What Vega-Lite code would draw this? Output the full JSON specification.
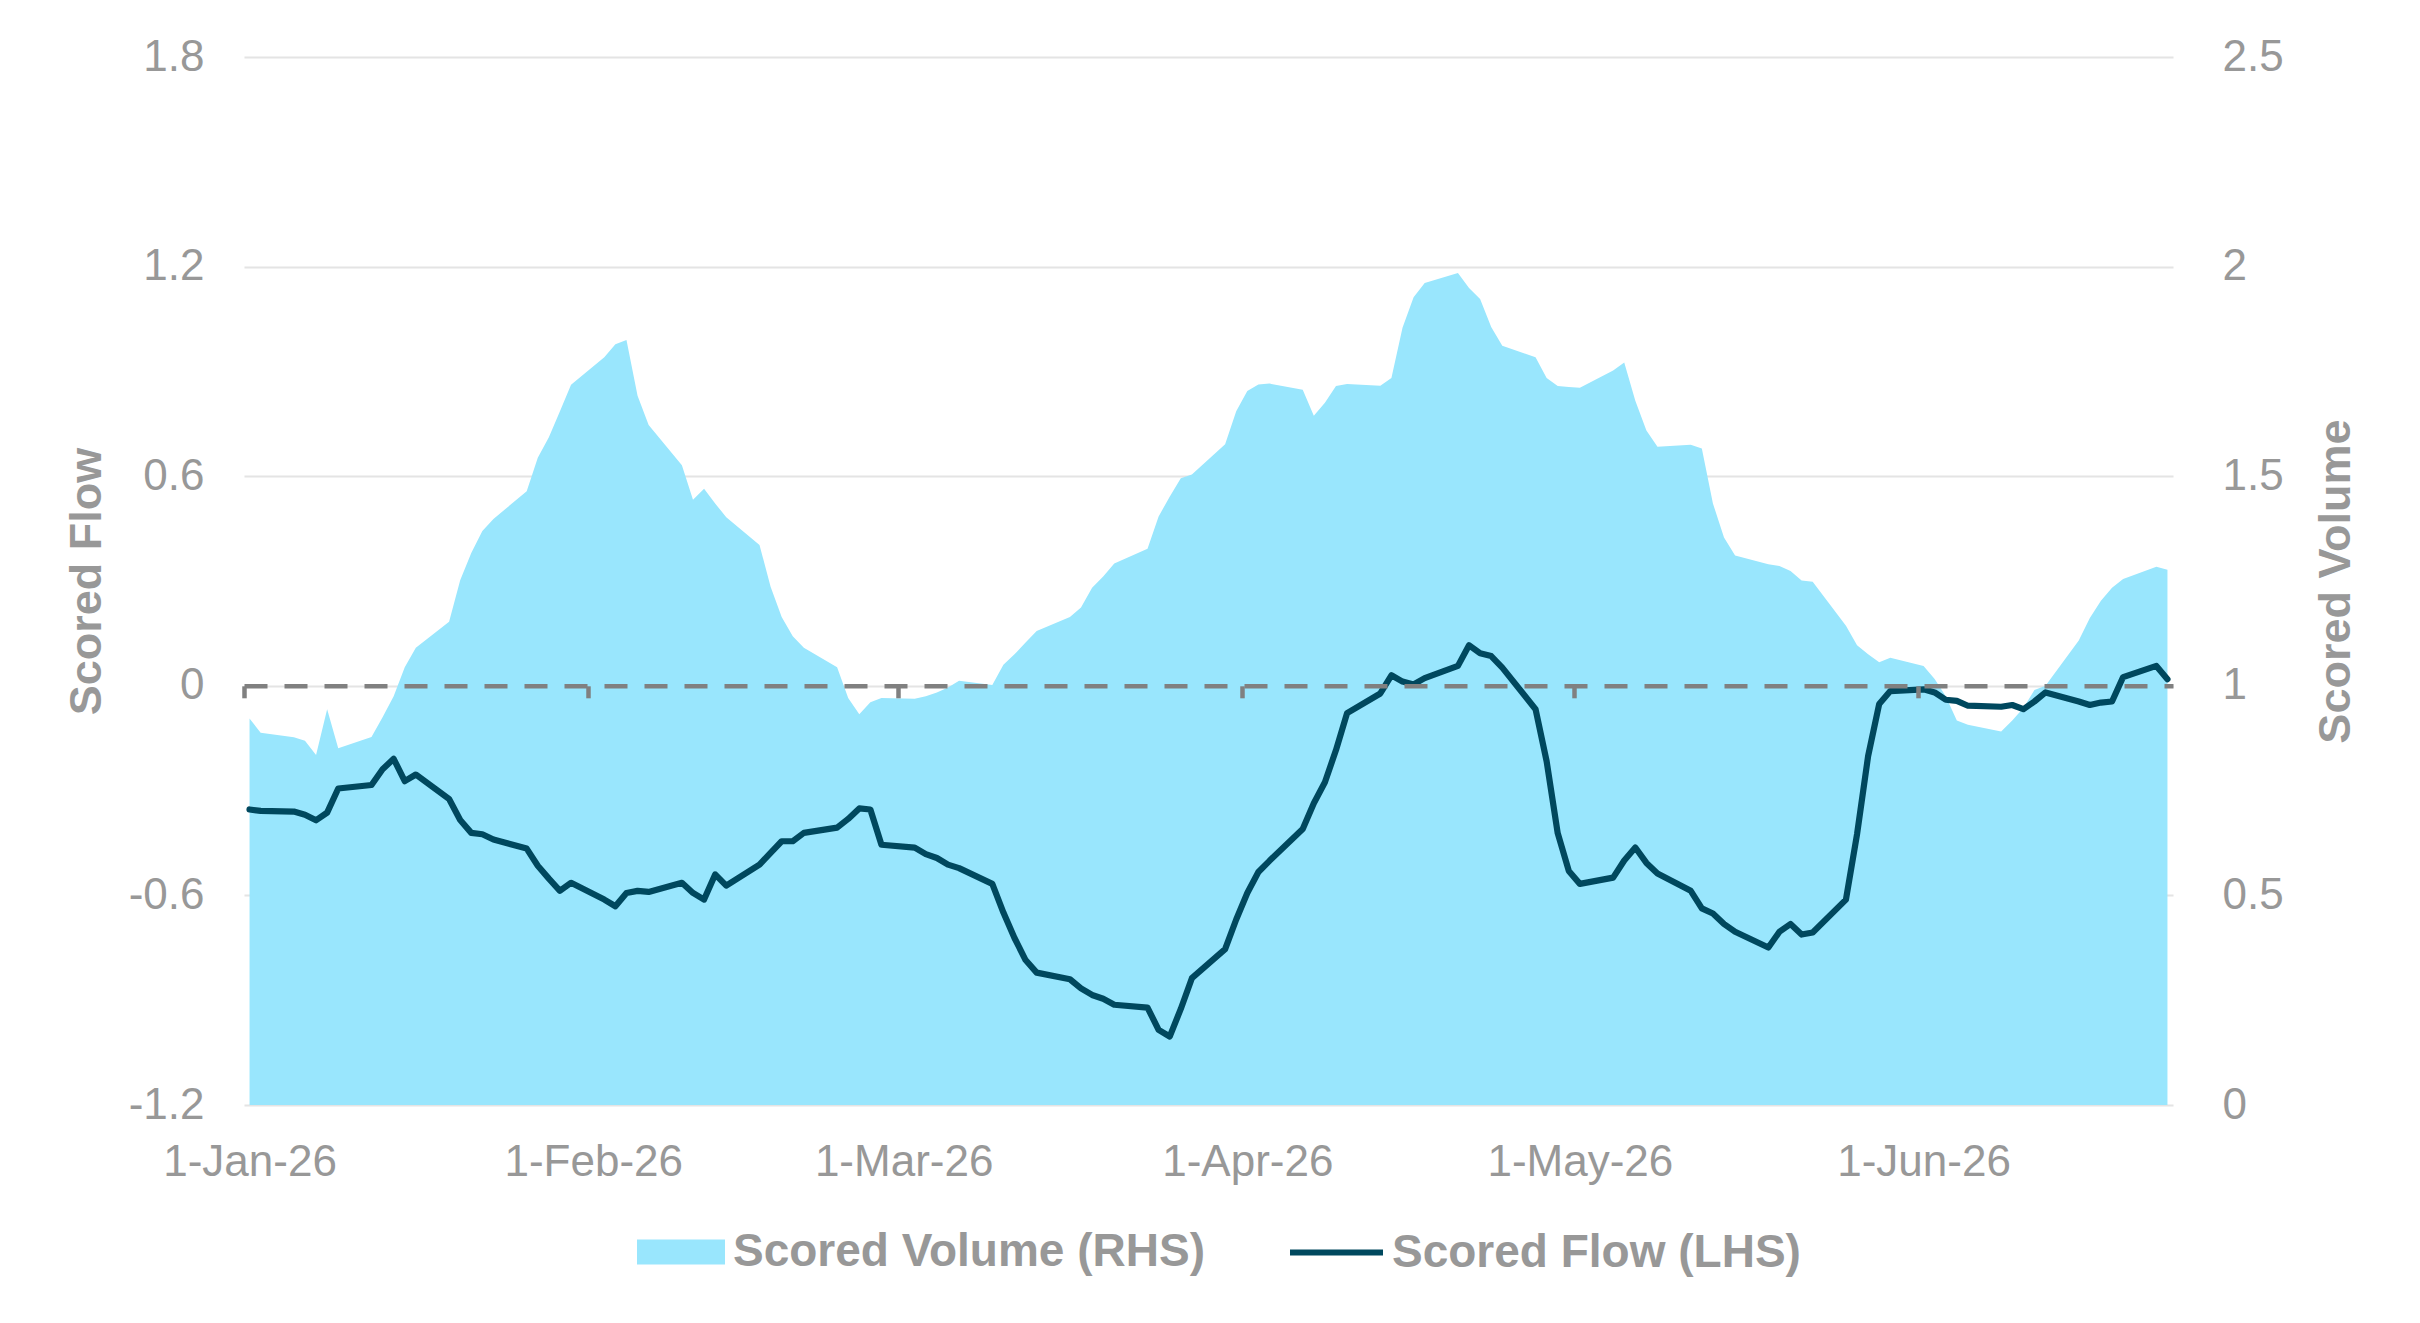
{
  "$schema": "https://vega.github.io/schema/vega-lite/v6.json",
  "width": 1929,
  "height": 1048,
  "autosize": "none",
  "padding": {"left": 244, "top": 57, "right": 247, "bottom": 218},
  "background": "white",
  "config": {"view": {"stroke": null}, "font": "Liberation Sans"},
  "data": {
    "values": [
      {"date": "2026-01-01", "flow": -0.354, "volume": 0.922},
      {"date": "2026-01-02", "flow": -0.358, "volume": 0.888},
      {"date": "2026-01-05", "flow": -0.360, "volume": 0.877},
      {"date": "2026-01-06", "flow": -0.369, "volume": 0.869},
      {"date": "2026-01-07", "flow": -0.385, "volume": 0.835},
      {"date": "2026-01-08", "flow": -0.363, "volume": 0.944},
      {"date": "2026-01-09", "flow": -0.294, "volume": 0.851},
      {"date": "2026-01-12", "flow": -0.284, "volume": 0.878},
      {"date": "2026-01-13", "flow": -0.239, "volume": 0.925},
      {"date": "2026-01-14", "flow": -0.209, "volume": 0.975},
      {"date": "2026-01-15", "flow": -0.273, "volume": 1.044},
      {"date": "2026-01-16", "flow": -0.254, "volume": 1.091},
      {"date": "2026-01-19", "flow": -0.324, "volume": 1.153},
      {"date": "2026-01-20", "flow": -0.384, "volume": 1.252},
      {"date": "2026-01-21", "flow": -0.421, "volume": 1.317},
      {"date": "2026-01-22", "flow": -0.425, "volume": 1.369},
      {"date": "2026-01-23", "flow": -0.440, "volume": 1.398},
      {"date": "2026-01-26", "flow": -0.466, "volume": 1.464},
      {"date": "2026-01-27", "flow": -0.515, "volume": 1.544},
      {"date": "2026-01-28", "flow": -0.552, "volume": 1.593},
      {"date": "2026-01-29", "flow": -0.587, "volume": 1.655},
      {"date": "2026-01-30", "flow": -0.564, "volume": 1.718},
      {"date": "2026-02-02", "flow": -0.612, "volume": 1.784},
      {"date": "2026-02-03", "flow": -0.631, "volume": 1.815},
      {"date": "2026-02-04", "flow": -0.593, "volume": 1.825},
      {"date": "2026-02-05", "flow": -0.587, "volume": 1.692},
      {"date": "2026-02-06", "flow": -0.590, "volume": 1.622},
      {"date": "2026-02-09", "flow": -0.564, "volume": 1.526},
      {"date": "2026-02-10", "flow": -0.593, "volume": 1.444},
      {"date": "2026-02-11", "flow": -0.612, "volume": 1.470},
      {"date": "2026-02-12", "flow": -0.540, "volume": 1.435},
      {"date": "2026-02-13", "flow": -0.572, "volume": 1.402},
      {"date": "2026-02-16", "flow": -0.512, "volume": 1.336},
      {"date": "2026-02-17", "flow": -0.478, "volume": 1.236},
      {"date": "2026-02-18", "flow": -0.445, "volume": 1.164},
      {"date": "2026-02-19", "flow": -0.445, "volume": 1.118},
      {"date": "2026-02-20", "flow": -0.421, "volume": 1.091},
      {"date": "2026-02-23", "flow": -0.406, "volume": 1.044},
      {"date": "2026-02-24", "flow": -0.381, "volume": 0.971},
      {"date": "2026-02-25", "flow": -0.351, "volume": 0.932},
      {"date": "2026-02-26", "flow": -0.354, "volume": 0.961},
      {"date": "2026-02-27", "flow": -0.455, "volume": 0.971},
      {"date": "2026-03-02", "flow": -0.463, "volume": 0.969},
      {"date": "2026-03-03", "flow": -0.482, "volume": 0.975},
      {"date": "2026-03-04", "flow": -0.493, "volume": 0.984},
      {"date": "2026-03-05", "flow": -0.512, "volume": 0.996},
      {"date": "2026-03-06", "flow": -0.522, "volume": 1.012},
      {"date": "2026-03-09", "flow": -0.567, "volume": 1.002},
      {"date": "2026-03-10", "flow": -0.649, "volume": 1.050},
      {"date": "2026-03-11", "flow": -0.722, "volume": 1.075},
      {"date": "2026-03-12", "flow": -0.785, "volume": 1.103},
      {"date": "2026-03-13", "flow": -0.821, "volume": 1.131},
      {"date": "2026-03-16", "flow": -0.840, "volume": 1.164},
      {"date": "2026-03-17", "flow": -0.866, "volume": 1.187},
      {"date": "2026-03-18", "flow": -0.885, "volume": 1.234},
      {"date": "2026-03-19", "flow": -0.896, "volume": 1.261},
      {"date": "2026-03-20", "flow": -0.913, "volume": 1.292},
      {"date": "2026-03-23", "flow": -0.921, "volume": 1.327},
      {"date": "2026-03-24", "flow": -0.985, "volume": 1.404},
      {"date": "2026-03-25", "flow": -1.004, "volume": 1.451},
      {"date": "2026-03-26", "flow": -0.925, "volume": 1.495},
      {"date": "2026-03-27", "flow": -0.837, "volume": 1.504},
      {"date": "2026-03-30", "flow": -0.754, "volume": 1.576},
      {"date": "2026-03-31", "flow": -0.669, "volume": 1.655},
      {"date": "2026-04-01", "flow": -0.593, "volume": 1.703},
      {"date": "2026-04-02", "flow": -0.533, "volume": 1.719},
      {"date": "2026-04-03", "flow": -0.501, "volume": 1.721},
      {"date": "2026-04-06", "flow": -0.410, "volume": 1.706},
      {"date": "2026-04-07", "flow": -0.336, "volume": 1.644},
      {"date": "2026-04-08", "flow": -0.276, "volume": 1.675},
      {"date": "2026-04-09", "flow": -0.184, "volume": 1.715},
      {"date": "2026-04-10", "flow": -0.078, "volume": 1.720},
      {"date": "2026-04-13", "flow": -0.022, "volume": 1.716},
      {"date": "2026-04-14", "flow": 0.030, "volume": 1.734},
      {"date": "2026-04-15", "flow": 0.012, "volume": 1.854},
      {"date": "2026-04-16", "flow": 0.004, "volume": 1.927},
      {"date": "2026-04-17", "flow": 0.022, "volume": 1.961},
      {"date": "2026-04-20", "flow": 0.057, "volume": 1.985},
      {"date": "2026-04-21", "flow": 0.116, "volume": 1.949},
      {"date": "2026-04-22", "flow": 0.093, "volume": 1.923},
      {"date": "2026-04-23", "flow": 0.085, "volume": 1.856},
      {"date": "2026-04-24", "flow": 0.052, "volume": 1.811},
      {"date": "2026-04-27", "flow": -0.067, "volume": 1.784},
      {"date": "2026-04-28", "flow": -0.216, "volume": 1.734},
      {"date": "2026-04-29", "flow": -0.422, "volume": 1.715},
      {"date": "2026-04-30", "flow": -0.530, "volume": 1.713},
      {"date": "2026-05-01", "flow": -0.567, "volume": 1.711},
      {"date": "2026-05-04", "flow": -0.549, "volume": 1.752},
      {"date": "2026-05-05", "flow": -0.500, "volume": 1.771},
      {"date": "2026-05-06", "flow": -0.463, "volume": 1.680},
      {"date": "2026-05-07", "flow": -0.507, "volume": 1.609},
      {"date": "2026-05-08", "flow": -0.537, "volume": 1.570},
      {"date": "2026-05-11", "flow": -0.587, "volume": 1.575},
      {"date": "2026-05-12", "flow": -0.637, "volume": 1.566},
      {"date": "2026-05-13", "flow": -0.652, "volume": 1.435},
      {"date": "2026-05-14", "flow": -0.682, "volume": 1.354},
      {"date": "2026-05-15", "flow": -0.704, "volume": 1.311},
      {"date": "2026-05-18", "flow": -0.749, "volume": 1.290},
      {"date": "2026-05-19", "flow": -0.704, "volume": 1.286},
      {"date": "2026-05-20", "flow": -0.682, "volume": 1.274},
      {"date": "2026-05-21", "flow": -0.712, "volume": 1.251},
      {"date": "2026-05-22", "flow": -0.706, "volume": 1.248},
      {"date": "2026-05-25", "flow": -0.612, "volume": 1.143},
      {"date": "2026-05-26", "flow": -0.425, "volume": 1.097},
      {"date": "2026-05-27", "flow": -0.201, "volume": 1.075},
      {"date": "2026-05-28", "flow": -0.052, "volume": 1.056},
      {"date": "2026-05-29", "flow": -0.015, "volume": 1.067},
      {"date": "2026-06-01", "flow": -0.010, "volume": 1.047},
      {"date": "2026-06-02", "flow": -0.019, "volume": 1.016},
      {"date": "2026-06-03", "flow": -0.040, "volume": 0.975},
      {"date": "2026-06-04", "flow": -0.043, "volume": 0.917},
      {"date": "2026-06-05", "flow": -0.057, "volume": 0.907},
      {"date": "2026-06-08", "flow": -0.060, "volume": 0.891},
      {"date": "2026-06-09", "flow": -0.055, "volume": 0.917},
      {"date": "2026-06-10", "flow": -0.067, "volume": 0.947},
      {"date": "2026-06-11", "flow": -0.045, "volume": 0.990},
      {"date": "2026-06-12", "flow": -0.019, "volume": 1.000},
      {"date": "2026-06-15", "flow": -0.045, "volume": 1.108},
      {"date": "2026-06-16", "flow": -0.055, "volume": 1.162},
      {"date": "2026-06-17", "flow": -0.048, "volume": 1.203},
      {"date": "2026-06-18", "flow": -0.045, "volume": 1.234},
      {"date": "2026-06-19", "flow": 0.025, "volume": 1.255},
      {"date": "2026-06-22", "flow": 0.057, "volume": 1.284},
      {"date": "2026-06-23", "flow": 0.019, "volume": 1.277}
    ]
  },
  "layer": [
    {
      "mark": {"type": "area", "interpolate": "linear", "opacity": 1},
      "encoding": {
        "x": {
          "field": "date",
          "type": "temporal",
          "scale": {
            "type": "utc",
            "domain": [
              {"year": 2025, "month": 12, "date": 31, "hours": 12, "utc": true},
              {"year": 2026, "month": 6, "date": 23, "hours": 12, "utc": true}
            ]
          },
          "axis": {
            "orient": "bottom",
            "offset": -419.2,
            "values": [
              {"year": 2026, "month": 1, "date": 1, "utc": true},
              {"year": 2026, "month": 2, "date": 1, "utc": true},
              {"year": 2026, "month": 3, "date": 1, "utc": true},
              {"year": 2026, "month": 4, "date": 1, "utc": true},
              {"year": 2026, "month": 5, "date": 1, "utc": true},
              {"year": 2026, "month": 6, "date": 1, "utc": true}
            ],
            "labelExpr": "utcFormat(datum.value, '%-d-%b-%y')",
            "title": null,
            "grid": false,
            "domain": true,
            "domainColor": "#808080",
            "domainWidth": 4.5,
            "domainDash": [23, 17],
            "ticks": true,
            "tickColor": "#808080",
            "tickWidth": 4.5,
            "tickSize": 12,
            "tickOffset": -5.54,
            "labelOffset": 5.54,
            "labelPadding": 464.7,
            "labelBaseline": "middle",
            "labelFont": "Liberation Sans",
            "labelFontSize": 44,
            "labelColor": "#989898",
            "labelLimit": 500,
            "labelFlush": false,
            "labelOverlap": false,
            "zindex": 1
          }
        },
        "y": {
          "field": "volume",
          "type": "quantitative",
          "scale": {"domain": [0, 2.5], "nice": false, "zero": true},
          "axis": {
            "orient": "right",
            "values": [0, 0.5, 1, 1.5, 2, 2.5],
            "labelExpr": "'' + datum.value",
            "grid": false,
            "domain": false,
            "ticks": false,
            "tickSize": 0,
            "labelPadding": 49,
            "labelFont": "Liberation Sans",
            "labelFontSize": 44,
            "labelColor": "#989898",
            "labelOverlap": false,
            "labelFlush": false,
            "title": "Scored Volume",
            "titleFont": "Liberation Sans",
            "titleFontSize": 45,
            "titleFontWeight": "bold",
            "titleColor": "#989898",
            "titleAngle": -90,
            "titleAlign": "center",
            "titleBaseline": "middle",
            "titleX": 162,
            "titleY": 524
          }
        },
        "fill": {
          "datum": "Scored Volume (RHS)",
          "type": "nominal",
          "scale": {"range": ["#99E6FD"]},
          "legend": {
            "orient": "none",
            "legendX": 393,
            "legendY": 1151,
            "title": null,
            "padding": 0,
            "symbolType": "M-1,-0.284H1V0.284H-1Z",
            "symbolSize": 7744,
            "symbolStrokeWidth": 0,
            "symbolOpacity": 1,
            "labelOffset": 8,
            "labelFont": "Liberation Sans",
            "labelFontSize": 46,
            "labelFontWeight": "bold",
            "labelColor": "#989898",
            "labelLimit": 1000
          }
        }
      }
    },
    {
      "mark": {"type": "line", "strokeWidth": 6.2, "strokeJoin": "round", "strokeCap": "round"},
      "encoding": {
        "x": {"field": "date", "type": "temporal"},
        "y": {
          "field": "flow",
          "type": "quantitative",
          "scale": {"domain": [-1.2, 1.8], "nice": false, "zero": false},
          "axis": {
            "orient": "left",
            "values": [-1.2, -0.6, 0, 0.6, 1.2, 1.8],
            "labelExpr": "'' + datum.value",
            "grid": true,
            "gridColor": "#E4E4E4",
            "gridWidth": 2,
            "domain": false,
            "ticks": false,
            "tickSize": 0,
            "labelPadding": 40,
            "labelFont": "Liberation Sans",
            "labelFontSize": 44,
            "labelColor": "#989898",
            "labelOverlap": false,
            "labelFlush": false,
            "title": "Scored Flow",
            "titleFont": "Liberation Sans",
            "titleFontSize": 45,
            "titleFontWeight": "bold",
            "titleColor": "#989898",
            "titleAngle": -90,
            "titleAlign": "center",
            "titleBaseline": "middle",
            "titleX": -158,
            "titleY": 524,
            "zindex": 0
          }
        },
        "stroke": {
          "datum": "Scored Flow (LHS)",
          "type": "nominal",
          "scale": {"range": ["#00485E"]},
          "legend": {
            "orient": "none",
            "legendX": 1043,
            "legendY": 1146,
            "title": null,
            "padding": 0,
            "symbolType": "stroke",
            "symbolSize": 8649,
            "symbolStrokeWidth": 6,
            "labelOffset": 6,
            "labelFont": "Liberation Sans",
            "labelFontSize": 46,
            "labelFontWeight": "bold",
            "labelColor": "#989898",
            "labelLimit": 1000
          }
        }
      }
    }
  ],
  "resolve": {"scale": {"y": "independent"}}
}
